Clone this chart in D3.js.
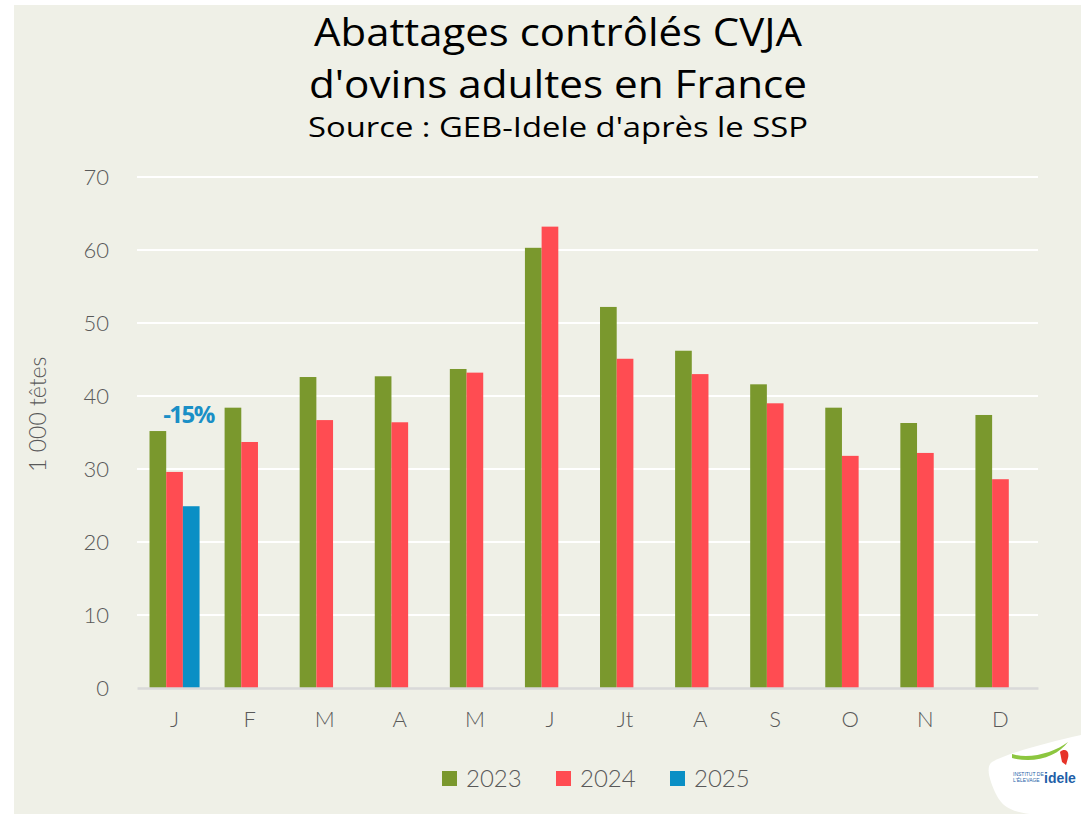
<!DOCTYPE html>
<html>
<head>
<meta charset="utf-8">
<script src="https://cdn.jsdelivr.net/npm/d3@7"></script>
<style>
  body { margin: 0; background: #fff; }
  svg { display: block; }
</style>
</head>
<body>
<svg id="chart" width="1081" height="814"></svg>
<script>
var months = ["J", "F", "M", "A", "M", "J", "Jt", "A", "S", "O", "N", "D"];
var years = ["2023", "2024", "2025"];
var v2023 = [35.2, 38.4, 42.6, 42.7, 43.7, 60.3, 52.2, 46.2, 41.6, 38.4, 36.3, 37.4];
var v2024 = [29.6, 33.7, 36.7, 36.4, 43.2, 63.2, 45.1, 43.0, 39.0, 31.8, 32.2, 28.6];
var v2025 = [24.9];
var yTicks = [0, 10, 20, 30, 40, 50, 60, 70];
var colors = ["#7a982d", "#ff4c52", "#0a8fc5"];

var svg = d3.select("#chart");
var margin = { top: 177, left: 137, right: 43, bottom: 126 };
var width = 1081 - margin.left - margin.right;
var height = 814 - margin.top - margin.bottom;
var axisFont = "Lato, 'Noto Sans', sans-serif";

// fond
svg.append("rect")
  .attr("x", 14).attr("y", 5)
  .attr("width", 1081 - 14).attr("height", 814 - 5)
  .attr("fill", "#eff0e7");

// titre
var title = svg.append("g")
  .attr("font-family", "'Open Sans', sans-serif")
  .attr("text-anchor", "middle")
  .attr("fill", "#000");
title.append("text").attr("x", 558).attr("y", 46)
  .attr("font-size", 38).attr("textLength", 488).attr("lengthAdjust", "spacingAndGlyphs")
  .text("Abattages contrôlés CVJA");
title.append("text").attr("x", 558).attr("y", 98)
  .attr("font-size", 38).attr("textLength", 498).attr("lengthAdjust", "spacingAndGlyphs")
  .text("d'ovins adultes en France");
title.append("text").attr("x", 558).attr("y", 137)
  .attr("font-size", 28).attr("textLength", 500).attr("lengthAdjust", "spacingAndGlyphs")
  .text("Source : GEB-Idele d'après le SSP");

var g = svg.append("g")
  .attr("transform", "translate(" + margin.left + "," + margin.top + ")");

var data = months.map(function (m, i) {
  return {
    month: m,
    idx: i,
    values: [v2023[i], v2024[i], v2025[i]]
  };
});

var x0 = d3.scaleBand()
  .domain(d3.range(months.length))
  .range([0, width]);

var x1 = d3.scaleBand()
  .domain(years)
  .range([x0.bandwidth() / 6, x0.bandwidth() * 5 / 6]);

var y = d3.scaleLinear().domain([0, 70]).range([height, 0]);

// grille
g.append("g")
  .selectAll("line")
  .data(yTicks.slice(1))
  .enter()
  .append("line")
  .attr("x1", 0).attr("x2", width)
  .attr("y1", function (d) { return y(d); })
  .attr("y2", function (d) { return y(d); })
  .attr("stroke", "#fff")
  .attr("stroke-width", 2);

// barres
g.append("g")
  .selectAll("g")
  .data(data)
  .enter()
  .append("g")
  .attr("transform", function (d) { return "translate(" + x0(d.idx) + ",0)"; })
  .selectAll("rect")
  .data(function (d) {
    return years.map(function (yr, k) {
      return { key: yr, k: k, value: d.values[k] };
    }).filter(function (e) { return e.value != null; });
  })
  .enter()
  .append("rect")
  .attr("x", function (d) { return x1(d.key); })
  .attr("y", function (d) { return y(d.value); })
  .attr("width", x1.bandwidth())
  .attr("height", function (d) { return height - y(d.value); })
  .attr("fill", function (d) { return colors[d.k]; });

// axe x
var xAxis = g.append("g")
  .attr("transform", "translate(0," + height + ")")
  .call(d3.axisBottom(x0).tickSize(0).tickPadding(23)
    .tickFormat(function (i) { return months[i]; }));
xAxis.select(".domain").attr("stroke", "#d9d9d9").attr("stroke-width", 2.5);
xAxis.selectAll("text")
  .attr("font-family", axisFont)
  .attr("font-weight", 300)
  .attr("font-size", 22)
  .attr("fill", "#595959");

// axe y
var yAxis = g.append("g")
  .call(d3.axisLeft(y).tickValues(yTicks).tickSize(0).tickPadding(28));
yAxis.select(".domain").remove();
yAxis.selectAll("text")
  .attr("font-family", axisFont)
  .attr("font-weight", 300)
  .attr("font-size", 22)
  .attr("fill", "#595959");

svg.append("text")
  .attr("transform", "translate(46," + (margin.top + y(37.5)) + ") rotate(-90)")
  .attr("text-anchor", "middle")
  .attr("font-family", axisFont)
  .attr("font-weight", 300)
  .attr("font-size", 23)
  .attr("fill", "#595959")
  .text("1 000 têtes");

// annotation
g.append("text")
  .attr("x", x0(0) + x0.bandwidth() / 2 + 14)
  .attr("y", y(v2023[0]) - 8)
  .attr("text-anchor", "middle")
  .attr("font-family", "'Open Sans', sans-serif")
  .attr("font-weight", "bold")
  .attr("font-size", 24)
  .attr("letter-spacing", -1.5)
  .attr("fill", "#1a8fc6")
  .text("-15%");

// légende
var legendX = [442, 556, 670];
var legend = svg.append("g")
  .selectAll("g")
  .data(years)
  .enter()
  .append("g")
  .attr("transform", function (d, i) { return "translate(" + legendX[i] + ",771)"; });
legend.append("rect")
  .attr("width", 15).attr("height", 15)
  .attr("fill", function (d, i) { return colors[i]; });
legend.append("text")
  .attr("x", 24).attr("y", 16)
  .attr("font-family", axisFont)
  .attr("font-weight", 300)
  .attr("font-size", 24)
  .attr("fill", "#595959")
  .text(function (d) { return d; });

// logo
var logo = svg.append("g");
logo.append("path")
  .attr("d", "M1081,735 C1050,742 1010,752 992,762 C985,767 990,782 997,796 C1003,807 1012,812 1030,814 L1081,814 Z")
  .attr("fill", "#fff");
logo.append("path")
  .attr("d", "M1012,754 C1030,760 1055,752 1068,742 C1058,756 1035,764 1012,758 Z")
  .attr("fill", "#8cc63f");
logo.append("path")
  .attr("d", "M1060,752 C1064,748 1070,750 1068,758 L1066,765 L1062,762 Z")
  .attr("fill", "#e63329");
logo.append("text")
  .attr("x", 1044).attr("y", 783)
  .attr("font-family", "'Liberation Sans', sans-serif")
  .attr("font-weight", "bold")
  .attr("font-size", 14)
  .attr("fill", "#1f5fa8")
  .text("idele");
logo.append("text")
  .attr("x", 1013).attr("y", 776)
  .attr("font-family", "'Liberation Sans', sans-serif")
  .attr("font-size", 5)
  .attr("fill", "#1f5fa8")
  .text("INSTITUT DE");
logo.append("text")
  .attr("x", 1013).attr("y", 782)
  .attr("font-family", "'Liberation Sans', sans-serif")
  .attr("font-size", 5)
  .attr("fill", "#1f5fa8")
  .text("L'ÉLEVAGE");
</script>
</body>
</html>
